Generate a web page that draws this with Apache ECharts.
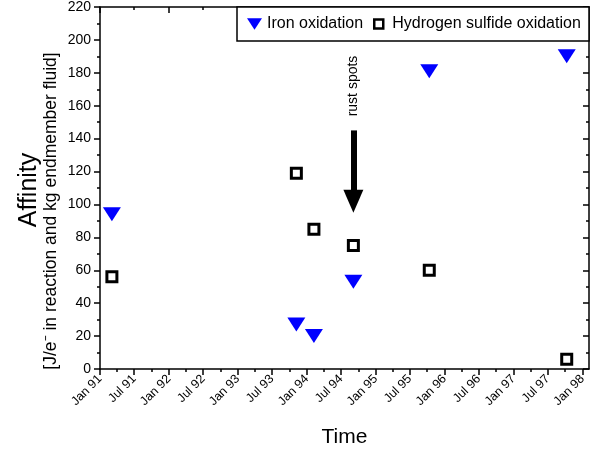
<!DOCTYPE html>
<html><head><meta charset="utf-8">
<script src="https://cdn.jsdelivr.net/npm/echarts/dist/echarts.min.js"></script>
<style>html,body{margin:0;padding:0;background:#fff}#c{width:600px;height:459px}</style>
</head><body><div id="c"></div>
<script>
// ---- data ----
const ironDates = ['1991-03-05','1993-11-07','1994-02-08','1994-09-05','1995-10-12','1997-10-10'];
const ironValues = [94, 27, 20, 53, 181, 190];
const sulfideDates = ['1991-03-05','1993-11-07','1994-02-08','1994-09-05','1995-10-12','1997-10-10'];
const sulfideValues = [56, 119, 85, 75, 60, 6];
const xTickDates = ['1991-01-01','1991-07-01','1992-01-01','1992-07-01','1993-01-01','1993-07-01','1994-01-01','1994-07-01','1995-01-01','1995-07-01','1996-01-01','1996-07-01','1997-01-01','1997-07-01','1998-01-01'];
const xTickLabels = ['Jan 91','Jul 91','Jan 92','Jul 92','Jan 93','Jul 93','Jan 94','Jul 94','Jan 95','Jul 95','Jan 96','Jul 96','Jan 97','Jul 97','Jan 98'];
const xMinorDates = ['1991-04-01','1991-10-01','1992-04-01','1992-10-01','1993-04-01','1993-10-01','1994-04-01','1994-10-01','1995-04-01','1995-10-01','1996-04-01','1996-10-01','1997-04-01','1997-10-01'];
const xMin = '1991-01-01', xMax = '1998-02-05';
const yMin = 0, yMax = 220, yStep = 20;
const yTitle = 'Affinity';
const ySubTitle = '[J/e\u207B in reaction and kg endmember fluid]';
const annotationDate = '1994-09-05';
const annotationText = 'rust spots';
const annotationTextValue = 172;
const arrowStartValue = 145, arrowEndValue = 102;

const FONT = '"Liberation Sans", Arial, Helvetica, sans-serif';
// calendar date -> fractional year (position on the value axis)
const toYear = s => { const p = s.split('-').map(Number); const d = new Date(p[0], p[1]-1, p[2]); const a = new Date(p[0],0,1), b = new Date(p[0]+1,0,1); return p[0] + (d-a)/(b-a); };
const tickPos = xTickDates.map(toYear);
const majorTop = xTickDates.filter((d,i)=>xTickLabels[i].startsWith('Jan')).map(toYear);
const minorTop = xTickDates.filter((d,i)=>xTickLabels[i].startsWith('Jul')).map(toYear);
const labelFor = v => { let best = 0; tickPos.forEach((t,i)=>{ if (Math.abs(t-v) < Math.abs(tickPos[best]-v)) best = i; }); return xTickLabels[best]; };

const BLK = {color:'#000', width:1.5};
const triPath = 'path://M0,0L18,0L9,14Z';
const chart = echarts.init(document.getElementById('c'), null, {renderer:'canvas'});
const baseX = {type:'value', min:toYear(xMin), max:toYear(xMax), gridIndex:0, splitLine:{show:false}};
chart.setOption({
  animation:false,
  backgroundColor:'#fff',
  grid:{left:100, right:11, top:7, bottom:90, outerBoundsMode:'none', containLabel:false},
  xAxis:[
    Object.assign({}, baseX, {position:'bottom',
      name:'Time', nameLocation:'middle', nameGap:58,
      nameTextStyle:{fontSize:21, color:'#000', fontFamily:FONT},
      axisLine:{show:true, onZero:false, lineStyle:BLK},
      axisTick:{show:true, inside:false, length:6, lineStyle:BLK, customValues:tickPos},
      axisLabel:{show:true, rotate:45, margin:8, fontSize:12.5, color:'#000', fontFamily:FONT, customValues:tickPos, formatter:v=>labelFor(v), hideOverlap:false}
    }),
    Object.assign({}, baseX, {position:'bottom',
      axisLine:{show:false, onZero:false}, axisLabel:{show:false},
      axisTick:{show:true, inside:false, length:3, lineStyle:BLK, customValues:xMinorDates.map(toYear)}
    }),
    Object.assign({}, baseX, {position:'top',
      axisLine:{show:true, onZero:false, lineStyle:BLK}, axisLabel:{show:false},
      axisTick:{show:true, inside:true, length:6, lineStyle:BLK, customValues:majorTop}
    }),
    Object.assign({}, baseX, {position:'top',
      axisLine:{show:false, onZero:false}, axisLabel:{show:false},
      axisTick:{show:true, inside:true, length:3, lineStyle:BLK, customValues:minorTop}
    })
  ],
  yAxis:[
    {type:'value', min:yMin, max:yMax, interval:yStep, position:'left',
     axisLine:{show:true, onZero:false, lineStyle:BLK},
     axisTick:{show:true, inside:false, length:6, lineStyle:BLK},
     minorTick:{show:true, splitNumber:2, length:3, lineStyle:BLK},
     axisLabel:{color:'#000', fontSize:14, fontFamily:FONT, margin:9},
     splitLine:{show:false}},
    {type:'value', min:yMin, max:yMax, interval:yStep, position:'right',
     axisLine:{show:true, onZero:false, lineStyle:BLK},
     axisTick:{show:true, inside:true, length:6, lineStyle:BLK},
     minorTick:{show:true, splitNumber:2, length:3, lineStyle:BLK},
     axisLabel:{show:false}, splitLine:{show:false}}
  ],
  legend:[
    {data:['Iron oxidation'], left:247, top:16, padding:0, itemWidth:15, itemHeight:13, selectedMode:false,
     textStyle:{fontSize:16, color:'#000', fontFamily:FONT}, z:10},
    {data:['Hydrogen sulfide oxidation'], left:373, top:16, padding:0, itemWidth:9, itemHeight:9, selectedMode:false,
     itemStyle:{borderWidth:2.5, opacity:1},
     textStyle:{fontSize:16, color:'#000', fontFamily:FONT, padding:[0,0,0,4]}, z:10}
  ],
  graphic:[
    {type:'rect', z:5, shape:{x:237, y:7, width:352, height:34}, style:{fill:'#fff', stroke:'#000', lineWidth:1.5}},
    {type:'text', x:29, y:190, rotation:Math.PI/2, style:{text:yTitle, font:'25px ' + FONT, fill:'#000', align:'center', verticalAlign:'middle'}},
    {type:'text', x:51, y:211, rotation:Math.PI/2, style:{text:ySubTitle, font:'17.5px ' + FONT, fill:'#000', align:'center', verticalAlign:'middle'}}
  ],
  series:[
    {name:'Iron oxidation', type:'scatter', xAxisIndex:0, yAxisIndex:0,
     symbol:triPath, symbolSize:[18,14], itemStyle:{color:'#0000ff', opacity:1},
     data: ironDates.map((d,i)=>[toYear(d), ironValues[i]])},
    {name:'Hydrogen sulfide oxidation', type:'scatter', xAxisIndex:0, yAxisIndex:0,
     symbol:'rect', symbolSize:10, itemStyle:{color:'rgba(255,255,255,0)', borderColor:'#000', borderWidth:3, opacity:1},
     data: sulfideDates.map((d,i)=>[toYear(d), sulfideValues[i]])},
    {name:'annotation', type:'scatter', xAxisIndex:0, yAxisIndex:0, data:[], silent:true,
     markLine:{silent:true, symbol:['none','path://M5,0L10,10L0,10Z'], symbolSize:[20,23],
       lineStyle:{color:'#000', width:6, type:'solid', opacity:1}, itemStyle:{color:'#000', opacity:1},
       label:{show:false}, emphasis:{disabled:true},
       data:[[{coord:[toYear(annotationDate), arrowStartValue]},{coord:[toYear(annotationDate), arrowEndValue]}]]},
     markPoint:{silent:true, symbol:'circle', symbolSize:1, itemStyle:{color:'rgba(0,0,0,0)'},
       label:{show:true, formatter:annotationText, position:'inside', rotate:90, fontSize:14, color:'#000', fontFamily:FONT},
       data:[{coord:[toYear(annotationDate), annotationTextValue]}]}
    }
  ]
});
</script></body></html>
